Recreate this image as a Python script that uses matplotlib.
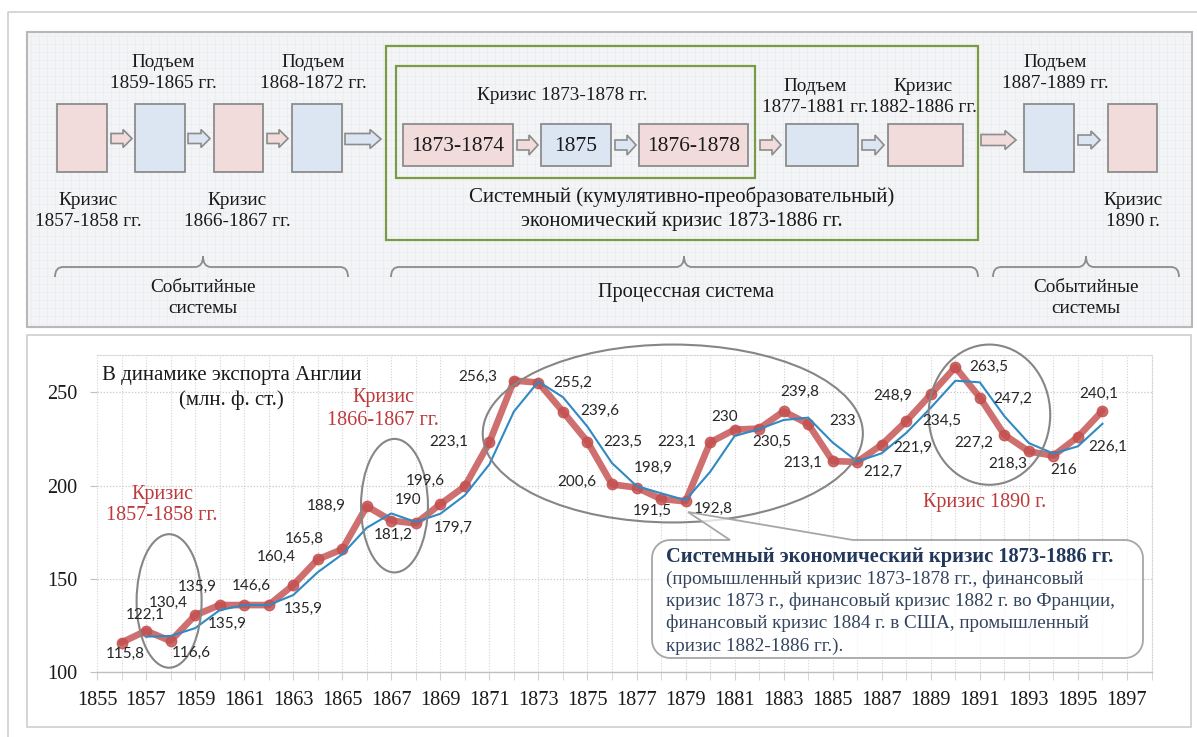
import matplotlib
matplotlib.use('Agg')
import matplotlib.pyplot as plt
import numpy as np
import pandas as pd
from matplotlib.patches import Rectangle, Ellipse, Polygon, PathPatch
from matplotlib.path import Path

# ---------------- data ----------------
years = list(range(1856, 1897))
exports = [115.8, 122.1, 116.6, 130.4, 135.9, 135.9, 135.9, 146.6, 160.4, 165.8,
           188.9, 181.2, 179.7, 190.0, 199.6, 223.1, 256.3, 255.2, 239.6, 223.5,
           200.6, 198.9, 192.8, 191.5, 223.1, 230.0, 230.5, 239.8, 233.0, 213.1,
           212.7, 221.9, 234.5, 248.9, 263.5, 247.2, 227.2, 218.3, 216.0, 226.1, 240.1]
x_ticks = list(range(1855, 1898, 2))
y_ticks = [100, 150, 200, 250]

# label offsets in pixels (dx right, dy down) - style only
label_offsets = [(4, 11), (-1, -16), (21, 12), (-27, -12), (-22, -18), (-17, 19), (35, 4),
                 (-42, 1), (-41, -2), (-38, -10), (-40, 0), (2, 14), (37, 5), (-32, -4),
                 (-40, -5), (-41, -1), (-36, -4), (34, 0), (37, -1), (35, 0), (-35, -3),
                 (17, -20), (52, 10), (-33, 10), (-33, -1), (-10, -13), (13, 13), (16, -19),
                 (34, -3), (-30, 2), (26, 10), (31, 3), (36, 0), (-38, 2), (33, 0), (33, 1),
                 (-31, 8), (-21, 12), (10, 14), (30, 10), (-4, -17)]

W, H = 1197, 737
SERIF = 'Liberation Serif'
LABELF = 'Lato'

fig = plt.figure(figsize=(W / 100, H / 100), dpi=100)
fig.patch.set_facecolor('white')


def fx(x):
    return x / W


def fy(y):
    return 1 - y / H


# ---------------- background layer ----------------
bg = fig.add_axes([0, 0, 1, 1], zorder=0)
bg.set_xlim(0, W)
bg.set_ylim(H, 0)
bg.axis('off')

# outer frame
bg.plot([8, 8, 1200], [745, 12, 12], color='#cfcfcf', lw=1.2)
# top panel
bg.add_patch(Rectangle((27, 32), 1165, 295, facecolor='#f3f4f6', edgecolor='#b8b8b8', lw=1.5))
for gx in np.arange(31, 1190, 8):
    bg.plot([gx, gx], [34, 325], color='#e8eaee', lw=0.4)
for gy in np.arange(36, 325, 8):
    bg.plot([29, 1190], [gy, gy], color='#e8eaee', lw=0.4)
# bottom panel
bg.add_patch(Rectangle((27, 335), 1164, 392, facecolor='white', edgecolor='#d2d2d2', lw=1.3))

# ---------------- chart ----------------
ax = fig.add_axes([fx(97), fy(672), (1151.5 - 97) / W, (672 - 355) / H], zorder=1)
ax.patch.set_alpha(0)
ax.set_xlim(1855, 1898)
ax.set_ylim(100, 270)
ax.set_xticks(x_ticks)
ax.set_xticks(range(1855, 1899), minor=True)
ax.set_yticks(y_ticks)
ax.grid(which='minor', axis='x', ls=(0, (1, 1.5)), color='#d3d3d3', lw=0.8)
ax.grid(which='major', axis='x', ls=(0, (1, 1.5)), color='#d3d3d3', lw=0.8)
ax.grid(which='major', axis='y', ls=(0, (1, 1.5)), color='#c8c8c8', lw=0.9)
for s in ['top', 'right']:
    ax.spines[s].set_linestyle((0, (1, 1.5)))
    ax.spines[s].set_color('#d3d3d3')
    ax.spines[s].set_linewidth(0.8)
ax.spines['left'].set_visible(False)
ax.spines['bottom'].set_color('#c0c0c0')
ax.spines['bottom'].set_linewidth(1.0)
ax.tick_params(axis='x', which='both', length=6, color='#d0d0d0', direction='out', pad=8)
ax.tick_params(axis='y', which='both', length=5, color='#c0c0c0', direction='out', pad=9)
for lab in ax.get_xticklabels() + ax.get_yticklabels():
    lab.set_fontfamily(SERIF)
    lab.set_fontsize(14.6)
    lab.set_color('#1a1a1a')

ma = pd.Series(exports).rolling(2).mean()
ax.plot(years, exports, color='#c4504f', lw=4.8, alpha=0.82, marker='o', ms=7.5,
        solid_joinstyle='round', solid_capstyle='round', zorder=3)
ax.plot(years, ma, color='#2f8ac4', lw=1.5, zorder=4)

for yr, v, (dx, dy) in zip(years, exports, label_offsets):
    txt = f"{v:g}".replace('.', ',')
    ax.annotate(txt, (yr, v), xytext=(dx, -dy), textcoords='offset pixels',
                ha='center', va='center', fontsize=11, family=LABELF,
                color='#262626', zorder=6)

# ellipses (data coordinates)
for (cx, cy, w, h) in [(1857.94, 138.1, 2.65, 71.6), (1867.13, 189.2, 2.73, 71.6),
                       (1878.48, 227.9, 15.5, 95.4), (1891.39, 238.0, 4.96, 75.2)]:
    ax.add_patch(Ellipse((cx, cy), w, h, fill=False, edgecolor='#868686', lw=1.5,
                         clip_on=False, zorder=5))

# ---------------- overlay layer ----------------
ov = fig.add_axes([0, 0, 1, 1], zorder=3)
ov.set_xlim(0, W)
ov.set_ylim(H, 0)
ov.axis('off')
ov.patch.set_alpha(0)

RED = '#be3a3c'
ov.text(231.5, 375, 'В динамике экспорта Англии', ha='center', va='center',
        fontsize=15, family=SERIF, color='#1a1a1a')
ov.text(231.5, 400, '(млн. ф. ст.)', ha='center', va='center', fontsize=15,
        family=SERIF, color='#1a1a1a')
ov.text(162, 494, 'Кризис', ha='center', va='center', fontsize=14.5, family=SERIF, color=RED)
ov.text(162, 516, '1857-1858 гг.', ha='center', va='center', fontsize=14.5, family=SERIF, color=RED)
ov.text(383, 397, 'Кризис', ha='center', va='center', fontsize=14.5, family=SERIF, color=RED)
ov.text(383, 420, '1866-1867 гг.', ha='center', va='center', fontsize=14.5, family=SERIF, color=RED)
ov.text(985, 502, 'Кризис 1890 г.', ha='center', va='center', fontsize=14.5, family=SERIF, color=RED)


# callout
def rounded_callout(x0, y0, x1, y1, r, pointer):
    pts = []
    (bl, tip, br) = pointer

    def arc(cx, cy, a0, a1):
        for a in np.linspace(a0, a1, 10):
            pts.append((cx + r * np.cos(np.radians(a)), cy + r * np.sin(np.radians(a))))
    arc(x0 + r, y0 + r, 180, 270)
    pts.append((bl, y0))
    pts.append(tip)
    pts.append((br, y0))
    arc(x1 - r, y0 + r, 270, 360)
    arc(x1 - r, y1 - r, 0, 90)
    arc(x0 + r, y1 - r, 90, 180)
    return pts


cpts = rounded_callout(652, 540, 1143, 658, 18, (730, (688, 512), 853))
ov.add_patch(Polygon(cpts, closed=True, facecolor='white', alpha=0.75, edgecolor='none'))
ov.add_patch(Polygon(cpts, closed=True, facecolor='none', edgecolor='#a6a6a6', lw=1.3))
ov.text(666, 557, 'Системный экономический кризис 1873-1886 гг.', ha='left', va='center',
        fontsize=14.8, family=SERIF, weight='bold', color='#22385a')
callout_lines = ['(промышленный кризис 1873-1878 гг., финансовый',
                 'кризис 1873 г., финансовый кризис 1882 г. во Франции,',
                 'финансовый кризис 1884 г. в США, промышленный',
                 'кризис 1882-1886 гг.).']
for i, line in enumerate(callout_lines):
    ov.text(666, 579 + i * 22.3, line, ha='left', va='center', fontsize=13.8,
            family=SERIF, color='#34445e')

# ---------------- top diagram ----------------
PINK = '#f2dcdb'
BLUE = '#dce6f2'
EDGE = '#8c8c8c'
GREEN = '#7a9a46'
TFS = 13.9


def box(x0, y0, x1, y1, color, text=None):
    ov.add_patch(Rectangle((x0, y0), x1 - x0, y1 - y0, facecolor=color, edgecolor=EDGE, lw=1.3))
    if text:
        ov.text((x0 + x1) / 2, (y0 + y1) / 2 + 1, text, ha='center', va='center',
                fontsize=15.5, family=SERIF, color='#1a1a1a')


def arrow(x0, x1, yc, color, bh=10, hh=18, hl=9):
    pts = [(x0, yc - bh / 2), (x1 - hl, yc - bh / 2), (x1 - hl, yc - hh / 2), (x1, yc),
           (x1 - hl, yc + hh / 2), (x1 - hl, yc + bh / 2), (x0, yc + bh / 2)]
    ov.add_patch(Polygon(pts, closed=True, facecolor=color, edgecolor=EDGE, lw=1.2))


def label2(x, y, l1, l2, fs=TFS, gap=21):
    ov.text(x, y, l1, ha='center', va='center', fontsize=fs, family=SERIF, color='#1a1a1a')
    ov.text(x, y + gap, l2, ha='center', va='center', fontsize=fs, family=SERIF, color='#1a1a1a')


def bracket(x0, x1, xc, ytop=256, ymid=267, ybot=277, c=8):
    verts = [(x0, ybot), (x0, ymid), (x0 + c, ymid), (xc - c, ymid), (xc, ymid), (xc, ytop),
             (xc, ymid), (xc + c, ymid), (x1 - c, ymid), (x1, ymid), (x1, ybot)]
    codes = [Path.MOVETO, Path.CURVE3, Path.CURVE3, Path.LINETO, Path.CURVE3, Path.CURVE3,
             Path.CURVE3, Path.CURVE3, Path.LINETO, Path.CURVE3, Path.CURVE3]
    ov.add_patch(PathPatch(Path(verts, codes), facecolor='none', edgecolor='#8c8c8c', lw=1.3))


# left event systems
box(57, 104, 107, 172, PINK)
arrow(111, 132, 138.5, PINK)
box(135, 104, 185, 172, BLUE)
arrow(188, 210, 138.5, BLUE)
box(214, 104, 263, 172, PINK)
arrow(267, 288, 138.5, PINK)
box(292, 104, 342, 172, BLUE)
arrow(345, 381, 139, BLUE, bh=11, hh=19, hl=11)
label2(163, 62, 'Подъем', '1859-1865 гг.')
label2(313, 62, 'Подъем', '1868-1872 гг.')
label2(88, 200, 'Кризис', '1857-1858 гг.')
label2(237, 200, 'Кризис', '1866-1867 гг.')

# process system
ov.add_patch(Rectangle((386, 46), 592, 194, facecolor='none', edgecolor=GREEN, lw=1.6))
ov.add_patch(Rectangle((396, 66), 359, 112, facecolor='none', edgecolor=GREEN, lw=1.6))
ov.text(562, 95, 'Кризис 1873-1878 гг.', ha='center', va='center', fontsize=TFS,
        family=SERIF, color='#1a1a1a')
box(403, 124, 513, 166, PINK, '1873-1874')
arrow(517, 538, 145, PINK, hh=20)
box(541, 124, 611, 166, BLUE, '1875')
arrow(615, 636, 145, BLUE, hh=20)
box(639, 124, 748, 166, PINK, '1876-1878')
arrow(760, 781, 145, PINK, hh=20)
box(786, 124, 858, 166, BLUE)
arrow(862, 884, 145, BLUE, hh=20)
box(888, 124, 963, 166, PINK)
label2(815, 86, 'Подъем', '1877-1881 гг.')
label2(923, 86, 'Кризис', '1882-1886 гг.')
label2(682, 197, 'Системный (кумулятивно-преобразовательный)',
       'экономический кризис 1873-1886 гг.', fs=15, gap=24)

# right event systems
arrow(981, 1016, 140, PINK, bh=11, hh=19, hl=11)
box(1024, 104, 1074, 172, BLUE)
arrow(1078, 1100, 140, BLUE)
box(1108, 104, 1157, 172, PINK)
label2(1055, 62, 'Подъем', '1887-1889 гг.')
label2(1133, 200, 'Кризис', '1890 г.')

bracket(55, 348, 203)
bracket(391, 978, 684)
bracket(993, 1179, 1086)
label2(203, 287, 'Событийные', 'системы')
ov.text(686, 292, 'Процессная система', ha='center', va='center', fontsize=14.6,
        family=SERIF, color='#1a1a1a')
label2(1086, 287, 'Событийные', 'системы')

fig.savefig('out.png', dpi=100)
